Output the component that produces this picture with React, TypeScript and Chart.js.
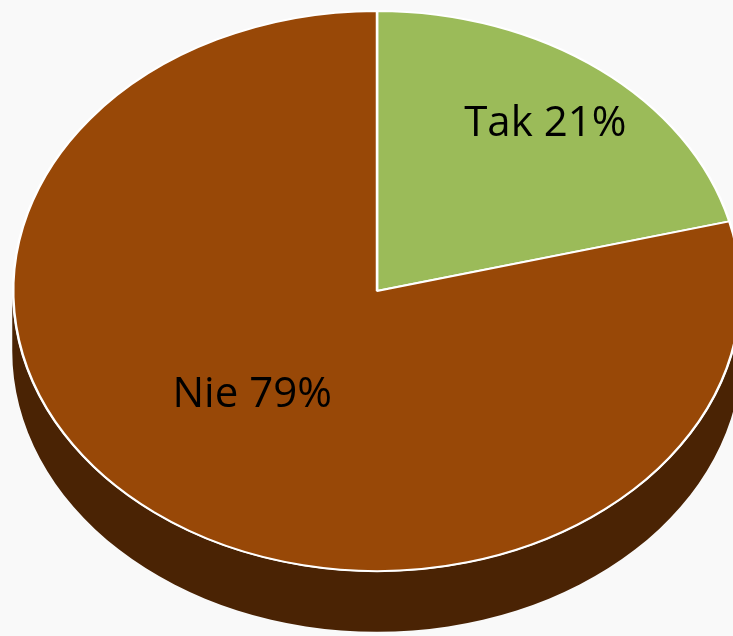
import React, { useEffect, useRef } from "react";
import { Chart, registerables } from "chart.js";

Chart.register(...registerables);

const categories = ["Tak", "Nie"];
const values = [21, 79];
const sliceColors = ["#9BBB59", "#984807"];
const sideColor = "#4A2304";
const labelRadiusX = [0.755, 0.56];
const labelRadiusY = [0.755, 0.47];

const SQUASH = 0.77;
const SCREEN_CY = 291;
const DEPTH = 60;

export default function App() {
  const ref = useRef<HTMLCanvasElement | null>(null);

  useEffect(() => {
    if (!ref.current) return;
    const total = values.reduce((a, b) => a + b, 0);

    const tiltPlugin = {
      id: "tilt3d",
      beforeDatasetsDraw(chart: any) {
        const ctx = chart.ctx as CanvasRenderingContext2D;
        const meta = chart.getDatasetMeta(0);
        const arc0 = meta.data[0];
        const { x, y, outerRadius } = arc0.getProps(["x", "y", "outerRadius"], true);
        ctx.save();
        ctx.translate(0, SCREEN_CY - SQUASH * y);
        ctx.scale(1, SQUASH);
        const d = DEPTH / SQUASH;
        ctx.fillStyle = sideColor;
        ctx.beginPath();
        ctx.arc(x, y + d, outerRadius + 1, 0, Math.PI);
        ctx.lineTo(x - outerRadius - 1, y);
        ctx.arc(x, y, outerRadius + 1, Math.PI, 0, true);
        ctx.closePath();
        ctx.fill();
      },
      afterDatasetsDraw(chart: any) {
        const ctx = chart.ctx as CanvasRenderingContext2D;
        ctx.restore();
        const meta = chart.getDatasetMeta(0);
        ctx.save();
        ctx.font = "42px 'Open Sans'";
        ctx.fillStyle = "#000000";
        ctx.textAlign = "center";
        ctx.textBaseline = "middle";
        meta.data.forEach((arc: any, i: number) => {
          const p = arc.getProps(["x", "y", "startAngle", "endAngle", "outerRadius"], true);
          const mid = (p.startAngle + p.endAngle) / 2;
          const px = p.x + Math.cos(mid) * p.outerRadius * labelRadiusX[i];
          const py = SCREEN_CY + SQUASH * Math.sin(mid) * p.outerRadius * labelRadiusY[i];
          const pct = Math.round((values[i] / total) * 100);
          ctx.fillText(`${categories[i]} ${pct}%`, px, py);
        });
        ctx.restore();
      },
    };

    const chart = new Chart(ref.current, {
      type: "pie",
      data: {
        labels: categories,
        datasets: [
          {
            data: values,
            backgroundColor: sliceColors,
            borderColor: "#ffffff",
            borderWidth: 2.5,
          },
        ],
      },
      options: {
        responsive: false,
        animation: false,
        events: [],
        layout: { padding: { left: 12, top: 12, right: 18, bottom: 18 } },
        plugins: {
          legend: { display: false },
          tooltip: { enabled: false },
        },
      },
      plugins: [tiltPlugin],
    });
    return () => chart.destroy();
  }, []);

  return (
    <div
      style={{
        position: "fixed",
        left: 0,
        top: 0,
        width: 733,
        height: 636,
        overflow: "hidden",
        background: "#f9f9f9",
      }}
    >
      <canvas ref={ref} width={760} height={760} style={{ display: "block" }} />
    </div>
  );
}
